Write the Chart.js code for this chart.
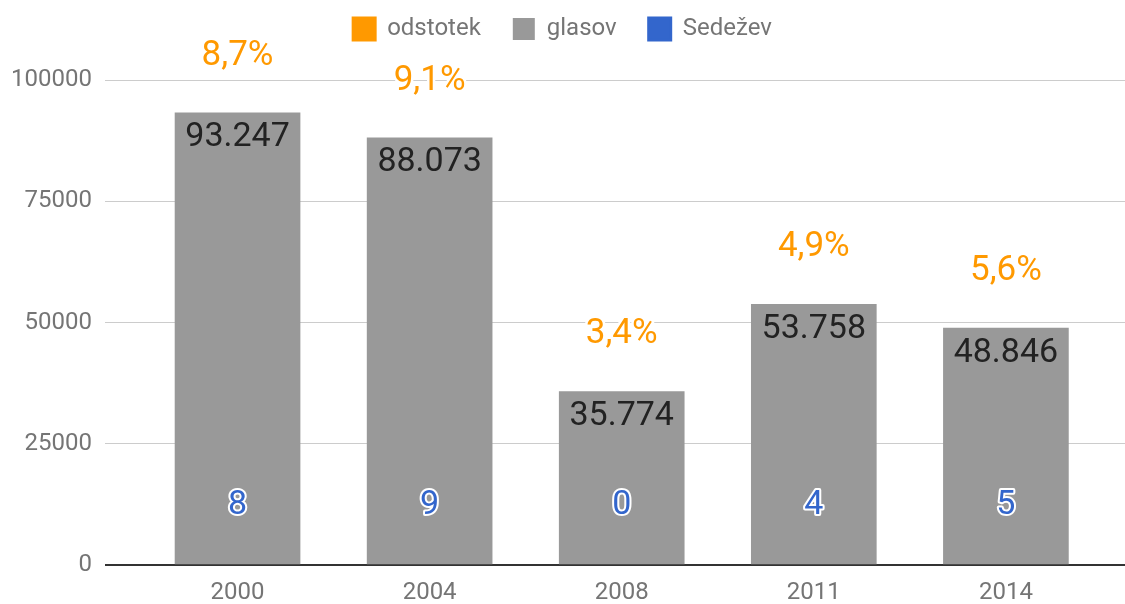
<!DOCTYPE html>
<html lang="sl">
<head>
    <meta charset="UTF-8">
    <title>glasov</title>
    <script src="https://cdn.jsdelivr.net/npm/chart.js"></script>
    <style>
        body { margin: 0; background: #fff; }
        .wrap { width: 1125px; height: 604px; }
    </style>
</head>
<body>
    <div class="wrap"><canvas id="chart" width="1125" height="604"></canvas></div>

    <script>
        const years = ['2000', '2004', '2008', '2011', '2014'];
        const votes = [93247, 88073, 35774, 53758, 48846];
        const percents = [8.7, 9.1, 3.4, 4.9, 5.6];
        const seats = [8, 9, 0, 4, 5];
        const yTicks = [0, 25000, 50000, 75000, 100000];

        const ORANGE = '#ff9900', GRAY = '#999999', BLUE = '#3366cc';
        const FONT = 'Roboto, Arial, sans-serif';

        const fmtVotes = v => String(v).replace(/\B(?=(\d{3})+(?!\d))/g, '.');
        const fmtPct = v => v.toFixed(1).replace('.', ',') + '%';

        // extra space under the legend
        const legendSpace = {
            id: 'legendSpace',
            beforeInit(chart) {
                const fit = chart.legend.fit;
                chart.legend.fit = function () {
                    fit.call(this);
                    this.height += 29;
                };
            }
        };

        // value labels on the bars
        const barLabels = {
            id: 'barLabels',
            afterDatasetsDraw(chart) {
                const ctx = chart.ctx;
                const bars = chart.getDatasetMeta(1).data;
                ctx.save();
                ctx.textAlign = 'center';
                ctx.textBaseline = 'middle';
                ctx.lineJoin = 'round';
                bars.forEach((bar, i) => {
                    // percent above the bar
                    ctx.font = '35px ' + FONT;
                    ctx.lineWidth = 5;
                    ctx.strokeStyle = '#fff';
                    ctx.strokeText(fmtPct(percents[i]), bar.x, bar.y - 57);
                    ctx.fillStyle = ORANGE;
                    ctx.fillText(fmtPct(percents[i]), bar.x, bar.y - 57);

                    // votes inside the bar top
                    ctx.font = '34px ' + FONT;
                    ctx.fillStyle = '#222';
                    ctx.fillText(fmtVotes(votes[i]), bar.x, bar.y + 25);

                    // seats near the base
                    ctx.lineWidth = 4;
                    ctx.strokeText(String(seats[i]), bar.x, bar.base - 59);
                    ctx.fillStyle = BLUE;
                    ctx.fillText(String(seats[i]), bar.x, bar.base - 59);
                });
                ctx.restore();
            }
        };

        new Chart(document.getElementById('chart'), {
            data: {
                datasets: [
                    {
                        type: 'line',
                        label: 'odstotek',
                        data: percents.map((p, i) => ({ x: i, y: p })),
                        yAxisID: 'yPct',
                        backgroundColor: ORANGE,
                        borderColor: ORANGE,
                        showLine: false,
                        pointRadius: 0
                    },
                    {
                        type: 'bar',
                        label: 'glasov',
                        data: votes.map((v, i) => ({ x: i, y: v })),
                        backgroundColor: GRAY,
                        borderColor: GRAY,
                        barThickness: 125
                    },
                    {
                        type: 'line',
                        label: 'Sedežev',
                        data: seats.map((s, i) => ({ x: i, y: s })),
                        yAxisID: 'ySeats',
                        backgroundColor: BLUE,
                        borderColor: BLUE,
                        showLine: false,
                        pointRadius: 0
                    }
                ]
            },
            options: {
                responsive: false,
                animation: false,
                events: [],
                layout: { padding: { top: -15, right: 0, bottom: 0, left: 0 } },
                plugins: {
                    tooltip: { enabled: false },
                    legend: {
                        position: 'top',
                        labels: {
                            boxWidth: 22,
                            boxHeight: 22,
                            padding: 32,
                            color: '#757575',
                            font: { family: FONT, size: 24 }
                        }
                    }
                },
                scales: {
                    x: {
                        type: 'linear',
                        offset: false,
                        min: -0.69,
                        max: 4.62,
                        grid: { display: false },
                        border: { display: false },
                        afterBuildTicks: axis => { axis.ticks = years.map((_, i) => ({ value: i })); },
                        afterFit: axis => { axis.height = 39; },
                        ticks: {
                            padding: 6,
                            color: '#757575',
                            font: { family: FONT, size: 24 },
                            callback: v => years[v]
                        }
                    },
                    y: {
                        min: 0,
                        max: 100000,
                        afterBuildTicks: axis => { axis.ticks = yTicks.map(v => ({ value: v })); },
                        afterFit: axis => { axis.width = 105; },
                        border: { display: false },
                        grid: {
                            drawTicks: false,
                            color: c => c.tick && c.tick.value === 0 ? '#333' : '#cccccc',
                            lineWidth: c => c.tick && c.tick.value === 0 ? 2 : 1
                        },
                        ticks: {
                            padding: 13,
                            color: '#757575',
                            font: { family: FONT, size: 24 },
                            callback: v => String(v)
                        }
                    },
                    yPct: { display: false, min: 0, max: 10 },
                    ySeats: { display: false, min: 0, max: 10 }
                }
            },
            plugins: [legendSpace, barLabels]
        });
    </script>
</body>
</html>
